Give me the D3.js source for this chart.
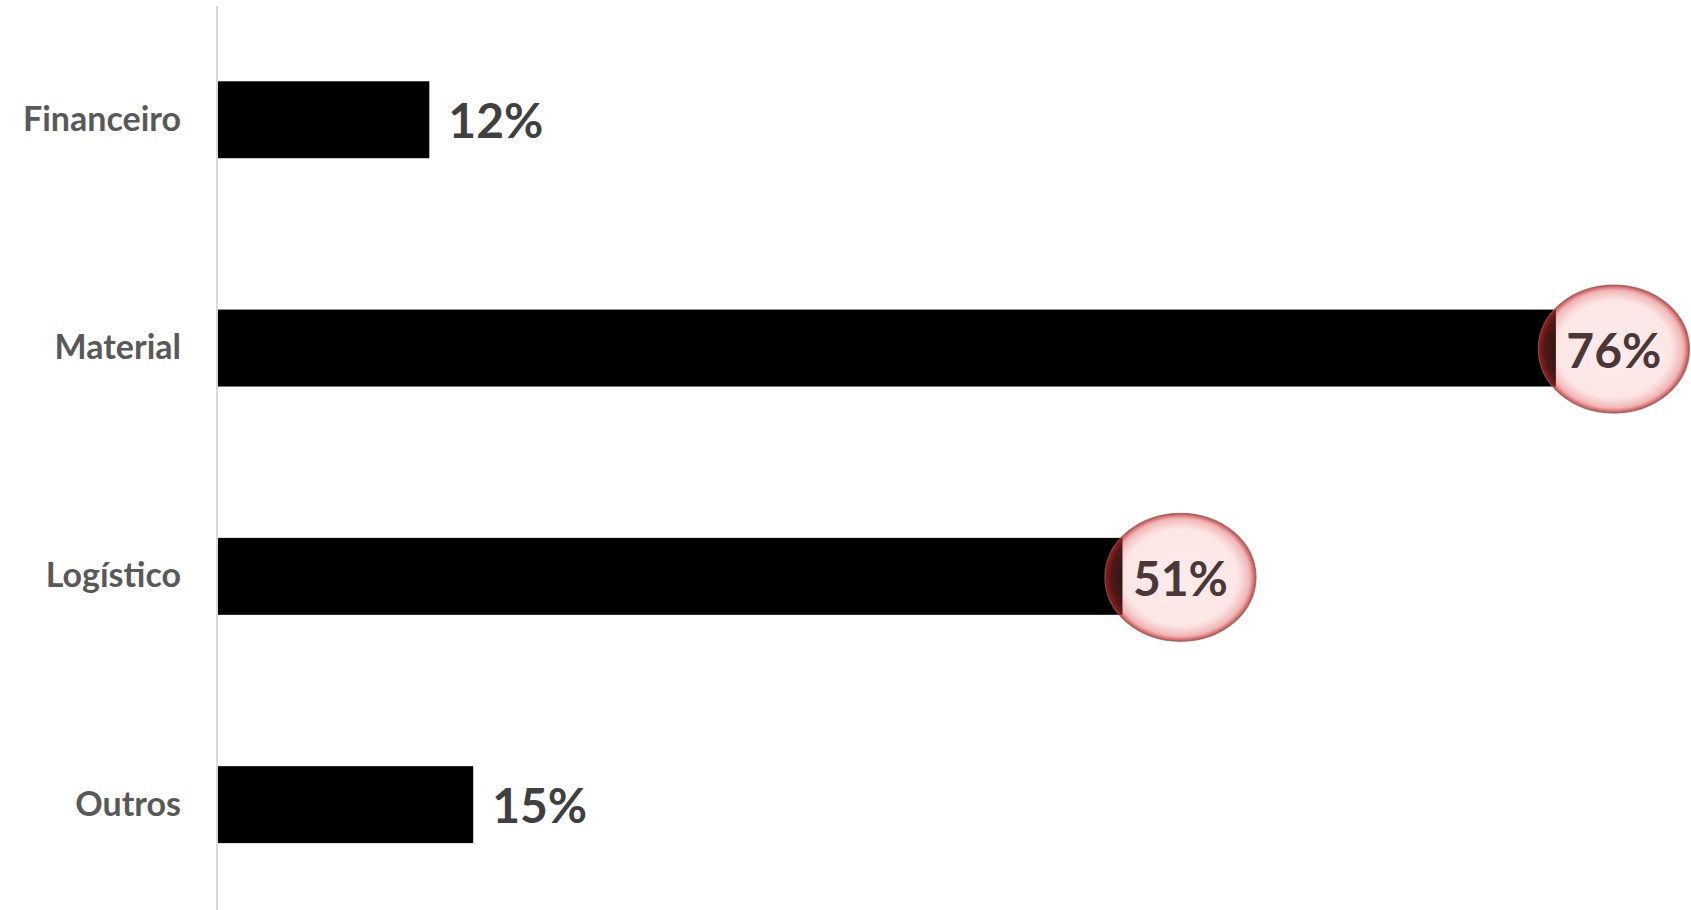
<!DOCTYPE html>
<html>
<head>
<meta charset="utf-8">
<script src="https://cdn.jsdelivr.net/npm/d3@7"></script>
<style>
  html, body { margin: 0; padding: 0; background: #ffffff; overflow: hidden; }
  svg { display: block; }
</style>
</head>
<body>
<svg id="chart" width="1691" height="910"></svg>
<script>
// ---- data ----
const categories = ["Financeiro", "Material", "Logístico", "Outros"];
const values = [12.1, 76.3, 51.6, 14.6];
const valueLabels = ["12%", "76%", "51%", "15%"];
const highlighted = ["Material", "Logístico"];

// ---- layout ----
const W = 1691, H = 910;
const svg = d3.select("#chart");
const x = d3.scaleLinear().domain([0, 84]).range([217, 1691]);
const y = d3.scaleBand().domain(categories).range([5.6, 918.8])
  .paddingInner(0.663).paddingOuter(0.3315);

const rows = categories.map((c, i) => ({ cat: c, v: values[i], label: valueLabels[i], hi: highlighted.includes(c) }));

// gradient for highlight ellipses
const defs = svg.append("defs");
const grad = defs.append("radialGradient").attr("id", "hiGrad")
  .attr("cx", "50%").attr("cy", "50%").attr("r", "50%");
grad.append("stop").attr("offset", "0%").attr("stop-color", "rgb(240,110,110)").attr("stop-opacity", 0.14);
grad.append("stop").attr("offset", "75%").attr("stop-color", "rgb(240,110,110)").attr("stop-opacity", 0.17);
grad.append("stop").attr("offset", "92%").attr("stop-color", "rgb(215,60,60)").attr("stop-opacity", 0.38);
grad.append("stop").attr("offset", "100%").attr("stop-color", "rgb(185,25,25)").attr("stop-opacity", 0.8);

// bars
svg.append("g").selectAll("rect").data(rows).join("rect")
  .attr("x", x(0))
  .attr("y", d => y(d.cat))
  .attr("width", d => x(d.v) - x(0))
  .attr("height", y.bandwidth())
  .attr("fill", "#000000");

// axis line (category axis)
const yAxis = svg.append("g").attr("transform", `translate(${x(0)},0)`)
  .call(d3.axisLeft(y).tickSize(0).tickPadding(36));
yAxis.select(".domain").attr("stroke", "#d9d9d9").attr("stroke-width", 2)
  .attr("d", `M0,6V${H}`);
yAxis.selectAll("text")
  .attr("font-family", "Lato, 'Open Sans', sans-serif")
  .attr("font-weight", "bold")
  .attr("font-size", 34)
  .attr("fill", "#595959");

// plain value labels
svg.append("g").selectAll("text").data(rows.filter(d => !d.hi)).join("text")
  .attr("x", d => x(d.v) + 19)
  .attr("y", d => y(d.cat) + y.bandwidth() / 2)
  .attr("dominant-baseline", "central")
  .attr("font-family", "Lato, 'Open Sans', sans-serif")
  .attr("font-weight", "bold")
  .attr("font-size", 48)
  .attr("fill", "#404040")
  .text(d => d.label);

// highlighted labels in ellipses
const hg = svg.append("g").selectAll("g").data(rows.filter(d => d.hi)).join("g")
  .attr("transform", d => `translate(${x(d.v) + 58},${y(d.cat) + y.bandwidth() / 2 + 1})`);
hg.append("ellipse")
  .attr("rx", 75.5).attr("ry", 64)
  .attr("fill", "url(#hiGrad)")
  .attr("stroke", "#8a6060").attr("stroke-width", 1.3).attr("stroke-opacity", 0.75);
hg.append("text")
  .attr("text-anchor", "middle")
  .attr("dominant-baseline", "central")
  .attr("font-family", "Lato, 'Open Sans', sans-serif")
  .attr("font-weight", "bold")
  .attr("font-size", 48)
  .attr("fill", "#4a3838")
  .text(d => d.label);
</script>
</body>
</html>
